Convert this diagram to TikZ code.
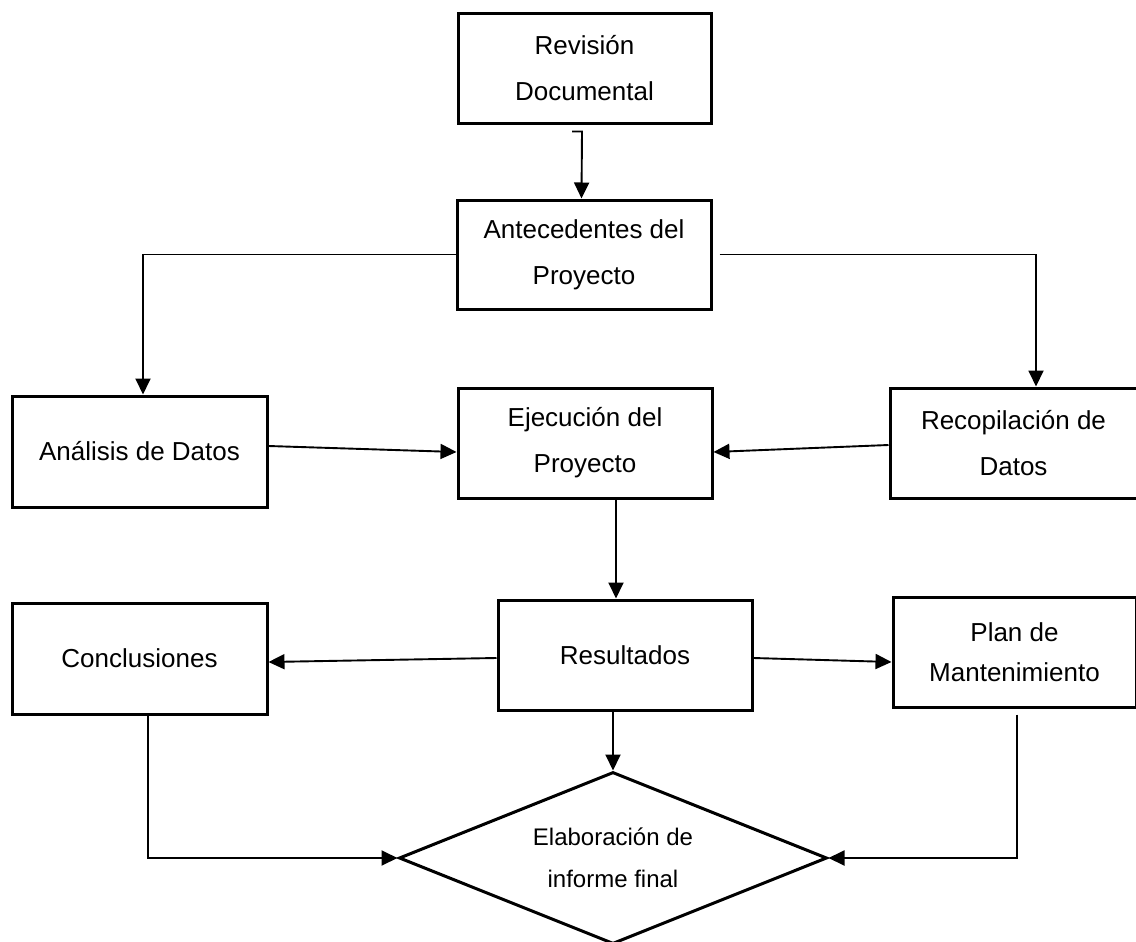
\documentclass[tikz,border=0pt]{standalone}
\usepackage{fontspec}
\setmainfont{Liberation Sans}
\usetikzlibrary{arrows.meta,shapes.geometric}
\tikzset{
  box/.style={draw, line width=3pt, rectangle, align=center, inner sep=0pt,
    font=\fontsize{26}{46}\selectfont},
  arr/.style={line width=1.9pt, -{Triangle[length=16pt,width=15pt]}},
  dia/.style={draw, line width=3pt, diamond, aspect=2.5, inner sep=0pt, align=center,
    font=\fontsize{24}{42}\selectfont}
}
\begin{document}
\begin{tikzpicture}[x=1pt,y=-1pt]
\useasboundingbox (0,0) rectangle (1136,942);
% boxes
\node[box, minimum width=253pt, minimum height=109pt] (rev) at (584.5,68.5) {Revisión\\Documental};
\node[box, minimum width=254pt, minimum height=109pt] (ant) at (584,254.5) {Antecedentes del\\Proyecto};
\node[box, minimum width=255pt, minimum height=111pt] (ana) at (139.5,451.5) {Análisis de Datos};
\node[box, minimum width=254pt, minimum height=110pt] (eje) at (585,443) {Ejecución del\\Proyecto};
\node[box, minimum width=247pt, minimum height=110pt] (rec) at (1013.5,443) {Recopilación de\\Datos};
\node[box, minimum width=255pt, minimum height=111pt] (con) at (139.5,658.5) {Conclusiones};
\node[box, minimum width=254pt, minimum height=110pt] (res) at (625,655) {Resultados};
\node[box, minimum width=243pt, minimum height=110pt, font=\fontsize{26}{40}\selectfont] (plan) at (1014.5,652) {Plan de\\Mantenimiento};
\node[dia, minimum width=428pt, minimum height=172pt] (fin) at (613,858) {Elaboración de\\informe final};
% connectors
\draw[arr] ([shift={(-12.5,7)}]rev.south) -- ++(10,0) -- ([xshift=-2.5pt]ant.north);
\draw[arr] (ant.west) -| ([xshift=3.5pt]ana.north);
\draw[arr] ([xshift=7pt]ant.east) -| ([xshift=22.5pt]rec.north);
\draw[arr] ([yshift=5.5pt]ana.east) -- ([yshift=-9pt]eje.west);
\draw[arr] ([yshift=-2pt]rec.west) -- ([yshift=-9pt]eje.east);
\draw[arr] ([xshift=31pt]eje.south) -- ([xshift=-9pt]res.north);
\draw[arr] ([yshift=-3pt]res.west) -- ([yshift=-3.5pt]con.east);
\draw[arr] ([yshift=-3pt]res.east) -- ([yshift=-10pt]plan.west);
\draw[arr] ([xshift=-12pt]res.south) -- (fin.north);
\draw[arr] ([xshift=8.5pt]con.south) |- (fin.west);
\draw[arr] ([shift={(2.5,6)}]plan.south) |- (fin.east);
\end{tikzpicture}
\end{document}
